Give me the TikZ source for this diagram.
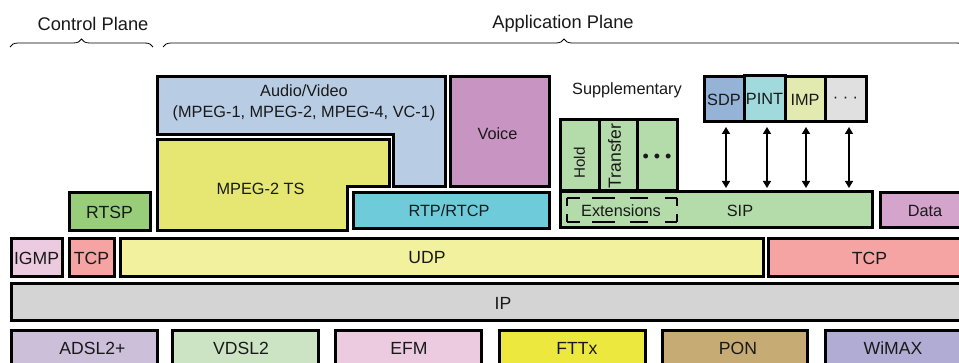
\documentclass[tikz,border=0pt]{standalone}
\usepackage{fontspec}
\setmainfont{Liberation Sans}
\usetikzlibrary{arrows.meta,decorations.pathreplacing}
\definecolor{cAV}{HTML}{B8CCE4}
\definecolor{cTS}{HTML}{E6E672}
\definecolor{cVoice}{HTML}{C895C3}
\definecolor{cRTP}{HTML}{6ECBD9}
\definecolor{cSIP}{HTML}{B4DCAA}
\definecolor{cRTSP}{HTML}{98CD7A}
\definecolor{cData}{HTML}{D4A4CC}
\definecolor{cIGMP}{HTML}{ECCBE1}
\definecolor{cTCP}{HTML}{F5A3A3}
\definecolor{cUDP}{HTML}{F2F29E}
\definecolor{cIP}{HTML}{D4D4D4}
\definecolor{cADSL}{HTML}{CCBFDA}
\definecolor{cVDSL}{HTML}{CCE4C4}
\definecolor{cEFM}{HTML}{ECCBE1}
\definecolor{cFTTx}{HTML}{EDE83E}
\definecolor{cPON}{HTML}{C6AB74}
\definecolor{cWiMAX}{HTML}{B0ACD4}
\definecolor{cSDP}{HTML}{95B3D7}
\definecolor{cPINT}{HTML}{A0DADC}
\definecolor{cIMP}{HTML}{E2EAB0}
\definecolor{cMore}{HTML}{E0E0E0}
\tikzset{
  box/.style={draw=black, line width=3pt, inner sep=0pt, text=black!90,
    font=\fontsize{16.3}{19}\selectfont},
  bigbox/.style={box, font=\fontsize{17.6}{20}\selectfont},
  poly/.style={draw=black, line width=3pt},
  lbl/.style={inner sep=0pt, text=black!90, font=\fontsize{16.3}{21}\selectfont, align=center},
  biglbl/.style={lbl, font=\fontsize{17.6}{20}\selectfont},
  dbl/.style={{Triangle[length=7pt,width=8pt]}-{Triangle[length=7pt,width=8pt]}, line width=1.5pt},
  brc/.style={decorate, decoration={brace, amplitude=8pt}, line width=0.8pt},
  ttl/.style={inner sep=0pt, text=black!90, font=\fontsize{18.3}{21}\selectfont},
  exth/.style={draw=black, line width=2.3pt, dash pattern=on 13pt off 12pt on 23pt off 15pt on 18pt off 17pt on 14pt},
  extv/.style={draw=black, line width=2.3pt, dash pattern=on 8pt off 8pt on 10pt},
}
\newcommand{\mybox}[8][box]{%
  \node[#1, fill=#7, minimum width={(#5-#3)*1pt}, minimum height={(#6-#4)*1pt}]
    (#2) at ({(#3+#5)/2},{(#4+#6)/2}) {#8};}
\begin{document}
\begin{tikzpicture}[x=1pt,y=-1pt]
\useasboundingbox (0,0) rectangle (959,363);
\clip (0,0) rectangle (959,363);
\fill[white] (0,0) rectangle (959,363);
% plane titles and braces
\node[ttl] (cp) at (93,24) {Control Plane};
\node[ttl] (ap) at (563,24) {Application Plane};
\draw[brc] (10,47) -- (153,47);
\draw[brc] (163,47) -- (965,47);
% Audio/Video L-shape
\draw[poly, fill=cAV] (157,77) -- (445,77) -- (445,187) -- (393,187) -- (393,135) -- (157,135) -- cycle;
\node[lbl] (av) at (304,102.5) {Audio/Video\\(MPEG-1, MPEG-2, MPEG-4, VC-1)};
% MPEG-2 TS shape
\draw[poly, fill=cTS] (157,140) -- (389,140) -- (389,187) -- (347,187) -- (347,231) -- (157,231) -- cycle;
\node[lbl] (ts) at (260.5,188.5) {MPEG-2 TS};
% upper boxes
\mybox{voice}{450}{77}{549}{187}{cVoice}{}
\node[lbl] (voicet) at (497.5,134) {Voice};
\mybox{rtp}{353}{193}{549}{229}{cRTP}{}
\node[lbl] (rtpt) at (449,211) {RTP/RTCP};
\mybox[bigbox]{rtsp}{69}{193}{150}{231}{cRTSP}{RTSP}
\node[lbl] (supp) at (627,90) {Supplementary};
\mybox{hold}{560}{120}{599}{191}{cSIP}{}
\mybox{transfer}{599}{120}{637}{191}{cSIP}{}
\mybox{more}{637}{120}{677}{191}{cSIP}{}
\node[lbl, font=\fontsize{18}{20}\selectfont] (moret) at (657,158) {• • •};
\node[lbl, rotate=90, font=\fontsize{15.2}{18}\selectfont] (holdt) at (579.5,163) {Hold};
\node[lbl, rotate=90, font=\fontsize{17.6}{20}\selectfont] (transt) at (614.5,156) {Transfer};
\draw[draw=black, line width=3pt] ([yshift=-1.5pt]transfer.north west) -- ([yshift=-1.5pt]transfer.north east);
\mybox{sip}{560}{192}{872}{228}{cSIP}{}
\node[lbl] (sipt) at (740,211) {SIP};
\node[inner sep=0pt, minimum width=110pt, minimum height=24pt] (ext) at (622,210) {};
\node[lbl] (extt) at (621,211) {Extensions};
\draw[exth] (ext.north west) -- (ext.north east);
\draw[exth] (ext.south west) -- (ext.south east);
\draw[extv] (ext.north west) -- (ext.south west);
\draw[extv] (ext.north east) -- (ext.south east);
\mybox{data}{880}{193}{965}{228}{cData}{}
\node[lbl] (datat) at (925,211) {Data};
\mybox{sdp}{704}{77}{744}{122}{cSDP}{SDP}
\mybox{pint}{744}{76}{785}{122}{cPINT}{PINT}
\mybox{imp}{785}{77}{825}{122}{cIMP}{IMP}
\mybox{etc}{825}{77}{866}{122}{cMore}{· · ·}
% arrows
\draw[dbl, shorten <=3.5pt, shorten >=2.5pt] ([xshift=2pt]sdp.south) -- ([xshift=2pt]sdp.south |- sip.north);
\draw[dbl, shorten <=3.5pt, shorten >=2.5pt] ([xshift=2.5pt]pint.south) -- ([xshift=2.5pt]pint.south |- sip.north);
\draw[dbl, shorten <=3.5pt, shorten >=2.5pt] ([xshift=1pt]imp.south) -- ([xshift=1pt]imp.south |- sip.north);
\draw[dbl, shorten <=3.5pt, shorten >=2.5pt] ([xshift=3.5pt]etc.south) -- ([xshift=3.5pt]etc.south |- sip.north);
% transport layer
\mybox[bigbox]{igmp}{11}{239}{62}{277}{cIGMP}{IGMP}
\mybox[bigbox]{tcpa}{69}{239}{114}{277}{cTCP}{TCP}
\mybox[bigbox]{udp}{120}{239}{763}{277}{cUDP}{}
\node[biglbl] (udpt) at (427,258) {UDP};
\mybox[bigbox]{tcpb}{768}{239}{970}{277}{cTCP}{}
\node[biglbl] (tcpbt) at (869.5,258) {TCP};
% IP
\mybox[bigbox]{ip}{11}{284}{970}{321}{cIP}{}
\node[biglbl] (ipt) at (503,303) {IP};
% access layer
\mybox[bigbox]{adsl}{11}{331}{157}{366}{cADSL}{}
\mybox[bigbox]{vdsl}{172}{331}{318}{366}{cVDSL}{}
\mybox[bigbox]{efm}{335}{331}{481}{366}{cEFM}{}
\mybox[bigbox]{fttx}{499}{331}{645}{366}{cFTTx}{}
\mybox[bigbox]{pon}{662}{331}{807}{366}{cPON}{}
\mybox[bigbox]{wimax}{825}{331}{975}{366}{cWiMAX}{}
\node[biglbl] (adslt) at (92.5,348) {ADSL2+};
\node[biglbl] (vdslt) at (241,348) {VDSL2};
\node[biglbl] (efmt) at (409,348) {EFM};
\node[biglbl] (fttxt) at (577,348) {FTTx};
\node[biglbl] (pont) at (738,348) {PON};
\node[biglbl] (wimaxt) at (893,348) {WiMAX};
\end{tikzpicture}
\end{document}
